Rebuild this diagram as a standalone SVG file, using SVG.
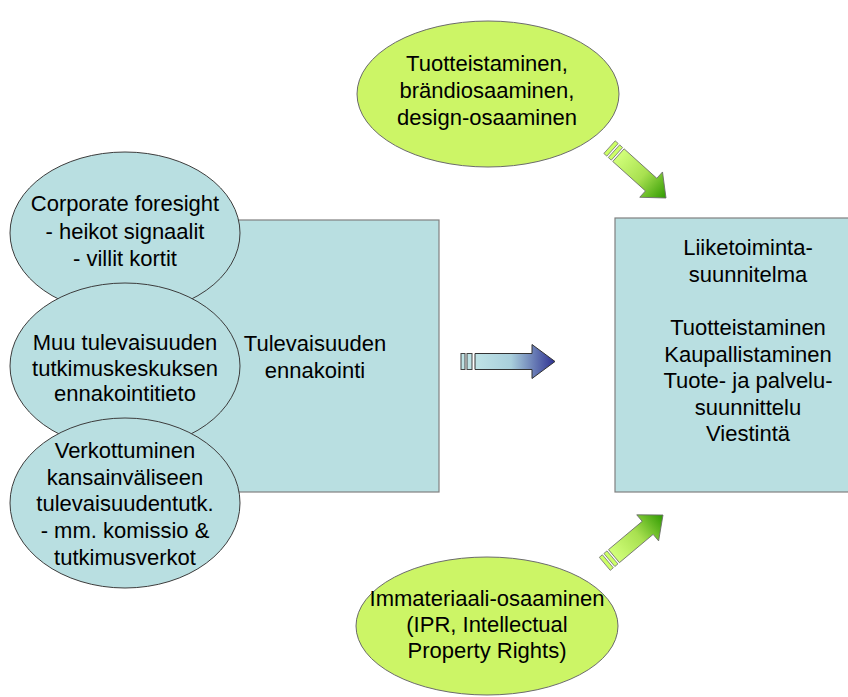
<svg xmlns="http://www.w3.org/2000/svg" width="848" height="697" viewBox="0 0 848 697">
<defs>
<linearGradient id="gBlue" x1="0" y1="0" x2="1" y2="0">
<stop offset="0" stop-color="#bfe3e6"/>
<stop offset="0.45" stop-color="#a9cfdc"/>
<stop offset="1" stop-color="#2e3192"/>
</linearGradient>
<linearGradient id="gGreen" x1="0" y1="0" x2="1" y2="0">
<stop offset="0" stop-color="#d2ff7a"/>
<stop offset="0.5" stop-color="#a8e050"/>
<stop offset="1" stop-color="#2f9a00"/>
</linearGradient>
<style>
.t{font-family:"Liberation Sans",Arial,sans-serif;font-size:22px;fill:#000;text-anchor:middle}
.blue{fill:#b9dfe1}
.lime{fill:#ccf566;stroke:#6b6b6b;stroke-width:1}
.ell{stroke:#3c3c3c;stroke-width:1}
.box{stroke:#808080;stroke-width:1.2}
.bar{stroke:#444;stroke-width:1}
</style>
</defs>
<rect width="848" height="697" fill="#fff"/>

<g id="node-tulevaisuuden-ennakointi">
<rect class="blue box" x="130" y="220" width="309" height="272"/>
<text class="t" x="315" y="351">Tulevaisuuden</text>
<text class="t" x="315" y="378">ennakointi</text>
</g>

<g id="node-corporate-foresight">
<ellipse class="blue ell" cx="125" cy="233" rx="115" ry="81"/>
<text class="t" x="125" y="211">Corporate foresight</text>
<text class="t" x="125" y="239">- heikot signaalit</text>
<text class="t" x="125" y="266">- villit kortit</text>
</g>

<g id="node-muu-tulevaisuuden">
<ellipse class="blue ell" cx="125" cy="366" rx="115" ry="83"/>
<text class="t" x="125" y="350">Muu tulevaisuuden</text>
<text class="t" x="125" y="376">tutkimuskeskuksen</text>
<text class="t" x="125" y="401">ennakointitieto</text>
</g>

<g id="node-verkottuminen">
<ellipse class="blue ell" cx="125" cy="503" rx="115" ry="85"/>
<text class="t" x="125" y="458">Verkottuminen</text>
<text class="t" x="125" y="485">kansainväliseen</text>
<text class="t" x="125" y="511">tulevaisuudentutk.</text>
<text class="t" x="125" y="538">- mm. komissio &amp;</text>
<text class="t" x="125" y="565">tutkimusverkot</text>
</g>

<g id="node-tuotteistaminen">
<ellipse class="lime" cx="488" cy="94" rx="131" ry="73"/>
<text class="t" x="487" y="71">Tuotteistaminen,</text>
<text class="t" x="487" y="98">brändiosaaminen,</text>
<text class="t" x="487" y="125">design-osaaminen</text>
</g>

<g id="node-immateriaali">
<ellipse class="lime" cx="487" cy="626" rx="131" ry="69"/>
<text class="t" x="487" y="606">Immateriaali-osaaminen</text>
<text class="t" x="487" y="632">(IPR, Intellectual</text>
<text class="t" x="487" y="658">Property Rights)</text>
</g>

<g id="node-liiketoimintasuunnitelma">
<rect class="blue box" x="615" y="218" width="245" height="274"/>
<text class="t" x="748" y="255">Liiketoiminta-</text>
<text class="t" x="748" y="282">suunnitelma</text>
<text class="t" x="748" y="335">Tuotteistaminen</text>
<text class="t" x="748" y="362">Kaupallistaminen</text>
<text class="t" x="748" y="388">Tuote- ja palvelu-</text>
<text class="t" x="748" y="415">suunnittelu</text>
<text class="t" x="748" y="441">Viestintä</text>
</g>

<g id="connectors">
<g id="arrow-middle" transform="translate(555,361.5)">
<rect class="bar" x="-94" y="-8" width="4" height="16" fill="#bfe3e6"/>
<rect class="bar" x="-88" y="-8" width="5" height="16" fill="#bfe3e6"/>
<path d="M-80,-8 H-23 V-17 L0,0 L-23,17 V8 H-80 Z" fill="url(#gBlue)" stroke="#333" stroke-width="1"/>
</g>
<g id="arrow-top" transform="translate(666,198) rotate(42)">
<rect x="-76" y="-8.5" width="4" height="17" fill="#ccff66" stroke="#777" stroke-width="0.8"/>
<rect x="-70" y="-8.5" width="4" height="17" fill="#ccff66" stroke="#777" stroke-width="0.8"/>
<path d="M-64,-8.5 H-20 V-17 L0,0 L-20,17 V8.5 H-64 Z" fill="url(#gGreen)" stroke="#6a6a6a" stroke-width="0.8"/>
</g>
<g id="arrow-bottom" transform="translate(663,515) rotate(-40)">
<rect x="-76" y="-8.5" width="4" height="17" fill="#ccff66" stroke="#777" stroke-width="0.8"/>
<rect x="-70" y="-8.5" width="4" height="17" fill="#ccff66" stroke="#777" stroke-width="0.8"/>
<path d="M-64,-8.5 H-20 V-17 L0,0 L-20,17 V8.5 H-64 Z" fill="url(#gGreen)" stroke="#6a6a6a" stroke-width="0.8"/>
</g>
</g>
</svg>
